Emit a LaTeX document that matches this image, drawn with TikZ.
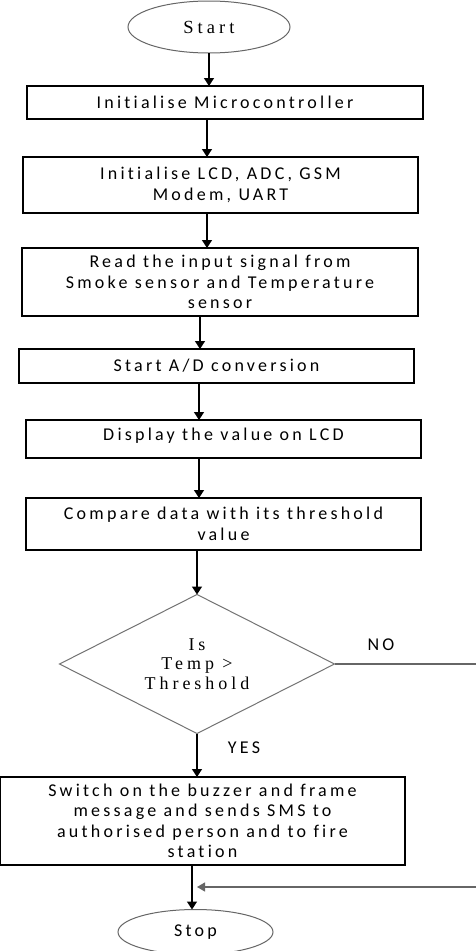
\documentclass[tikz,border=0pt]{standalone}
\usepackage{fontspec}
\usetikzlibrary{shapes.geometric,arrows.meta,calc}
\newfontfamily\boxfont[LetterSpace=18,Ligatures={NoCommon}]{Carlito}
\newfontfamily\serfont[LetterSpace=22,Ligatures={NoCommon}]{Liberation Serif}
\begin{document}
\begin{tikzpicture}[x=1pt,y=-1pt,
  every node/.style={inner sep=0pt, outer sep=0pt},
  procbox/.style={draw=black, line width=1.2pt, rectangle, align=center,
    font=\boxfont\fontsize{18}{20.5}\selectfont},
  term/.style={draw=black!60, line width=1pt, ellipse},
  decbox/.style={draw=black!55, line width=1pt, diamond, shape aspect=2, align=center,
    font=\serfont\fontsize{18}{19.5}\selectfont},
  lbl/.style={font=\boxfont\fontsize{18}{20}\selectfont},
  arr/.style={draw=black, line width=1.4pt, -{Triangle[length=8pt,width=10pt]}},
  fbline/.style={draw=black!60, line width=1.3pt},
]
\useasboundingbox (0,0) rectangle (475,951);
\fill[white] (0,0) rectangle (475,951);

\node[term, minimum width=162pt, minimum height=52pt,
  font=\serfont\fontsize{18.5}{20}\selectfont] (start) at (209,27) {Start};
\node[procbox, minimum width=396pt, minimum height=33pt] (b1) at (225,102.5) {Initialise Microcontroller};
\node[procbox, minimum width=395pt, minimum height=56pt] (b2) at (220.5,185) {Initialise LCD, ADC, GSM\\Modem, UART};
\node[procbox, minimum width=396pt, minimum height=68pt] (b3) at (220,282) {Read the input signal from\\Smoke sensor and Temperature\\sensor};
\node[procbox, minimum width=395pt, minimum height=34pt] (b4) at (216.5,366) {Start A/D conversion};
\node[procbox, minimum width=395pt, minimum height=38pt, text depth=10pt] (b5) at (223.5,439) {Display the value on LCD};
\node[procbox, minimum width=395pt, minimum height=52pt] (b6) at (223.5,524) {Compare data with its threshold\\value};
\node[decbox, minimum width=275pt, minimum height=139pt] (dec) at (197,664) {Is\\Temp >\\Threshold};
\node[procbox, minimum width=405pt, minimum height=88pt] (fin) at (202.5,821) {Switch on the buzzer and frame\\message and sends SMS to\\authorised person and to fire\\station};
\node[term, minimum width=155pt, minimum height=45pt,
  font=\boxfont\fontsize{18}{20}\selectfont] (stop) at (195.5,932) {Stop};

\node[lbl] (no) at (381,645) {NO};
\node[lbl] (yes) at (244,748) {YES};

\coordinate (edge) at (478,664);
\coordinate (fbend) at (197,887);

\draw[arr] (start.south) -- (start.south |- b1.north);
\draw[arr] (b1.south -| 207,0) -- (b2.north -| 207,0);
\draw[arr] (b2.south -| 207,0) -- (b3.north -| 207,0);
\draw[arr] (b3.south -| 200,0) -- (b4.north -| 200,0);
\draw[arr] (b4.south -| 199,0) -- (b5.north -| 199,0);
\draw[arr] (b5.south -| 199,0) -- (b6.north -| 199,0);
\draw[arr] (b6.south -| dec.north) -- (dec.north);
\draw[arr] (dec.south) -- (fin.north -| dec.south);
\draw[arr] (fin.south -| 192,0) -- (stop.north -| 192,0);
\draw[fbline, -{Triangle[length=8pt,width=9pt]}] (dec.east) -- (edge) |- (fbend);
\end{tikzpicture}
\end{document}
